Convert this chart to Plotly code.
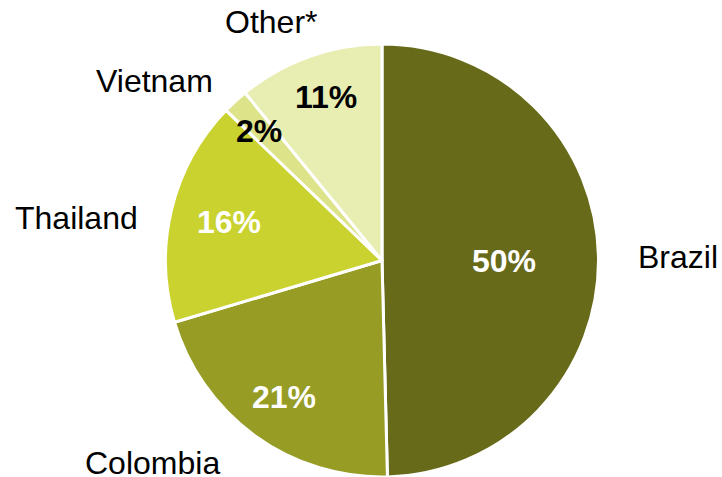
import plotly.graph_objects as go

countries = ["Brazil", "Colombia", "Thailand", "Vietnam", "Other*"]
shares = [49.6, 20.8, 16.8, 1.9, 10.9]
pct_labels = ["50%", "21%", "16%", "2%", "11%"]
colors = ["#666A19", "#969C24", "#C9D22E", "#DCE388", "#E8EDB2"]
pct_colors = ["white", "white", "white", "black", "black"]

W, H = 722, 477

fig = go.Figure(go.Pie(
    labels=countries,
    values=shares,
    sort=False,
    direction="clockwise",
    rotation=0,
    marker=dict(colors=colors, line=dict(color="white", width=3)),
    textinfo="none",
    hoverinfo="label+percent",
    showlegend=False,
    domain=dict(x=[164 / W, 600 / W], y=[0, 1 - 44 / H]),
))

# label positions in pixels (x, y)
name_pos = [(678, 257), (152, 463), (76, 218), (154, 81), (271, 22)]
pct_pos = [(504, 261), (284, 397), (229, 222), (259, 131), (326, 97)]

annotations = []
for name, (px, py) in zip(countries, name_pos):
    annotations.append(dict(
        text=name, x=px / W, y=1 - py / H, xref="paper", yref="paper",
        xanchor="center", yanchor="middle", showarrow=False,
        font=dict(family="Liberation Sans, Arial", size=32, color="black"),
    ))
for lab, col, (px, py) in zip(pct_labels, pct_colors, pct_pos):
    annotations.append(dict(
        text="<b>" + lab + "</b>", x=px / W, y=1 - py / H, xref="paper", yref="paper",
        xanchor="center", yanchor="middle", showarrow=False,
        font=dict(family="Liberation Sans, Arial", size=32, color=col),
    ))

fig.update_layout(
    width=W, height=H,
    margin=dict(l=0, r=0, t=0, b=0),
    paper_bgcolor="white",
    plot_bgcolor="white",
    annotations=annotations,
)

fig.write_html("out.html", config={"displayModeBar": False},
               post_script="document.body.style.margin='0';")
